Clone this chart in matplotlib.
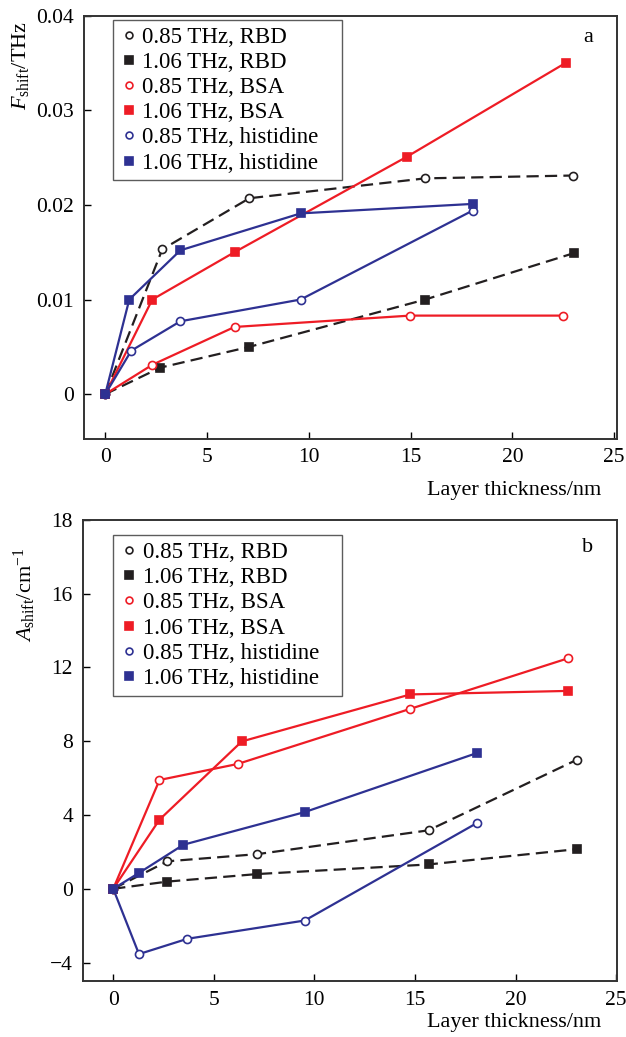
import numpy as np
import matplotlib
matplotlib.use("Agg")
import matplotlib.pyplot as plt

plt.rcParams["font.family"] = ["Liberation Serif", "DejaVu Serif"]
plt.rcParams["mathtext.fontset"] = "custom"
plt.rcParams["mathtext.rm"] = "Liberation Serif"
plt.rcParams["mathtext.it"] = "Liberation Serif:italic"

labels = ["0.85 THz, RBD", "1.06 THz, RBD", "0.85 THz, BSA",
          "1.06 THz, BSA", "0.85 THz, histidine", "1.06 THz, histidine"]

# panel a: frequency shift (THz)
fa_x = [
    [0, 2.80, 7.08, 15.72, 22.98],
    [0, 2.70, 7.08, 15.72, 23.02],
    [0, 2.31, 6.35, 14.97, 22.50],
    [0, 2.31, 6.35, 14.83, 22.62],
    [0, 1.28, 3.69, 9.60, 18.05],
    [0, 1.18, 3.69, 9.60, 18.05],
]
fa_y = [
    [0, 0.0153, 0.0207, 0.0228, 0.0231],
    [0, 0.0028, 0.0050, 0.0100, 0.0149],
    [0, 0.0031, 0.0071, 0.0083, 0.0083],
    [0, 0.0100, 0.0150, 0.0251, 0.0350],
    [0, 0.0046, 0.0077, 0.0100, 0.0194],
    [0, 0.0100, 0.0152, 0.0191, 0.0201],
]

# panel b: absorption shift (cm^-1)
ab_x = [
    [0, 2.69, 7.17, 15.67, 23.05],
    [0, 2.69, 7.17, 15.67, 23.05],
    [0, 2.30, 6.19, 14.77, 22.61],
    [0, 2.30, 6.39, 14.77, 22.61],
    [0, 1.28, 3.69, 9.52, 18.10],
    [0, 1.28, 3.49, 9.52, 18.10],
]
ab_y = [
    [0, 1.49, 1.88, 3.17, 7.00],
    [0, 0.39, 0.80, 1.32, 2.15],
    [0, 5.90, 6.77, 9.76, 12.50],
    [0, 3.75, 7.99, 10.54, 10.73],
    [0, -3.54, -2.71, -1.72, 3.58],
    [0, 0.86, 2.39, 4.16, 7.37],
]

a_yticks = [0, 0.01, 0.02, 0.03, 0.04]
a_yticklabels = ["0", "0.01", "0.02", "0.03", "0.04"]
b_yticks = [-4, 0, 4, 8, 12, 16, 20]
b_yticklabels = ["\u22124", "0", "4", "8", "12", "16", "18"]
xticks = [0, 5, 10, 15, 20, 25]

black = "#231f20"
red = "#ee1c25"
blue = "#2e3192"
colors = [black, black, red, red, blue, blue]
markers = ["o", "s", "o", "s", "o", "s"]
styles = [(0, (5.5, 2.8)), (0, (5.5, 2.8)), "-", "-", "-", "-"]

fig = plt.figure(figsize=(6.26, 10.37), dpi=100)
ax1 = fig.add_axes([0.134, 0.577, 0.852, 0.408])
ax2 = fig.add_axes([0.132, 0.054, 0.854, 0.4446])


def draw(ax, xs, ys):
    handles = []
    for i in range(6):
        filled = markers[i] == "s"
        ax.plot(xs[i], ys[i], color=colors[i], linestyle=styles[i], lw=1.6, zorder=2)
        h, = ax.plot(xs[i], ys[i], linestyle="none", marker=markers[i],
                     ms=6.3 if filled else 5.8,
                     mfc=colors[i] if filled else "white",
                     mec=colors[i], mew=1.2, zorder=3, label=labels[i])
        handles.append(h)
    return handles


legend_boxes = [(0.054, 0.0, 0.43, 0.99), (0.057, 0.0, 0.428, 0.967)]

for ax, xs, ys, box in [(ax1, fa_x, fa_y, legend_boxes[0]),
                        (ax2, ab_x, ab_y, legend_boxes[1])]:
    handles = draw(ax, xs, ys)
    leg = ax.legend(handles=handles, loc="upper left", fontsize=16.5,
                    frameon=True, fancybox=False, edgecolor="#333333",
                    handlelength=0.8, handletextpad=0.2, borderpad=0.3,
                    labelspacing=0.18, borderaxespad=0.0,
                    bbox_to_anchor=box, mode="expand", markerscale=0.85)
    leg.get_frame().set_linewidth(1.0)
    ax.set_xticks(xticks)
    ax.tick_params(direction="in", length=5, width=1, labelsize=15.5,
                   top=False, right=False, pad=7)
    for s in ax.spines.values():
        s.set_linewidth(1.4)
        s.set_color("#333333")
    ax.set_xlabel("Layer thickness/nm", fontsize=16, loc="right")

ax1.set_xlim(-1.05, 25.15)
ax1.set_ylim(-0.0047, 0.04)
ax1.set_yticks(a_yticks)
ax1.set_yticklabels(a_yticklabels)
ax1.set_ylabel("$F_{\\mathrm{shift}}$/THz", fontsize=16, loc="top")
ax1.yaxis.set_label_coords(-0.1, 0.986)
ax1.xaxis.set_label_coords(0.97, -0.1)
ax1.text(0.946, 0.948, "a", transform=ax1.transAxes, fontsize=16,
         ha="center", va="center")

ax2.set_xlim(-1.52, 25.05)
ax2.set_ylim(-5, 20)
ax2.set_yticks(b_yticks)
ax2.set_yticklabels(b_yticklabels)
ax2.set_ylabel("$A_{\\mathrm{shift}}$/cm$^{-1}$", fontsize=16, loc="top")
ax2.yaxis.set_label_coords(-0.083, 0.94)
ax2.xaxis.set_label_coords(0.97, -0.07)
ax2.text(0.945, 0.94, "b", transform=ax2.transAxes, fontsize=16,
         ha="center", va="center")

plt.savefig("out.png", dpi=100)
